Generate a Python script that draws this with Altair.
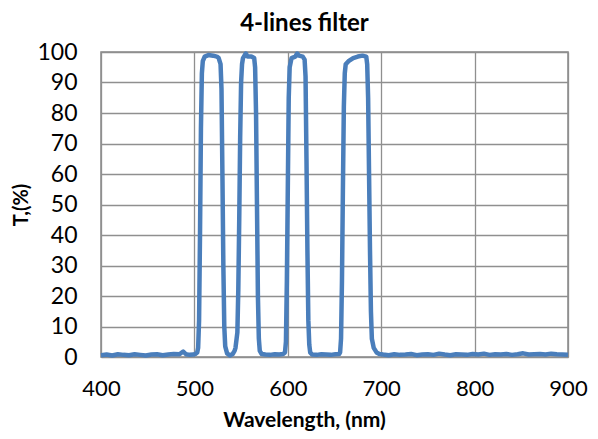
import altair as alt
import pandas as pd

wavelength = [
    400, 406, 412, 418, 424, 430, 436, 442, 448, 454, 460, 466, 472, 478, 484, 488, 491, 495, 499,
    501, 503, 504, 505, 506, 507, 508, 509, 511, 515, 520, 524, 526, 528, 529, 530, 531, 532, 533,
    535, 538, 541, 543, 544, 546, 547, 548, 549, 550, 551, 552, 553, 555, 557, 561, 564, 565, 566,
    567, 568, 569, 570, 572, 576, 581, 586, 591, 595, 597, 598, 599, 600, 601, 602, 604, 608, 610,
    612, 616, 618, 619, 620, 621, 622, 623, 624, 626, 631, 636, 641, 646, 651, 655, 656, 657, 658,
    659, 660, 661, 662, 665, 670, 675, 680, 684, 685, 686, 687, 688, 689, 690, 692, 695, 698, 702,
    708, 714, 720, 726, 732, 738, 744, 750, 756, 762, 768, 774, 780, 786, 792, 798, 804, 810, 816,
    822, 828, 834, 840, 846, 852, 858, 864, 870, 876, 882, 888, 894, 900,
]
transmission = [
    0.6, 0.8, 0.5, 0.9, 0.7, 0.6, 0.9, 0.7, 0.5, 0.8, 0.9, 0.6, 0.8, 1.0, 0.9, 1.8, 0.9, 0.7, 0.8,
    1.0, 1.5, 3.0, 12.0, 40.0, 75.0, 93.0, 97.0, 98.5, 99.0, 98.8, 98.5, 98.0, 96.0, 88.0, 60.0, 30.0, 10.0, 3.5,
    1.2, 0.5, 1.0, 2.0, 3.0, 8.0, 22.0, 45.0, 72.0, 90.0, 96.0, 98.0, 98.5, 99.5, 98.5, 98.5, 98.0, 95.0, 80.0,
    50.0, 20.0, 6.0, 2.0, 1.0, 0.8, 0.7, 0.9, 0.8, 1.0, 1.5, 5.0, 25.0, 55.0, 85.0, 95.0, 98.0, 98.5, 99.5,
    98.8, 98.5, 97.5, 92.0, 65.0, 35.0, 12.0, 4.0, 1.5, 0.8, 0.7, 0.9, 0.8, 0.7, 0.9, 1.0, 1.5, 6.0, 25.0,
    55.0, 82.0, 93.0, 96.0, 97.0, 98.0, 98.5, 98.8, 98.5, 96.0, 85.0, 60.0, 35.0, 15.0, 6.0, 3.0, 1.5, 1.0, 0.8,
    0.6, 0.9, 0.7, 0.8, 1.0, 0.6, 0.8, 0.9, 0.7, 1.1, 0.8, 0.6, 0.9, 0.8, 0.7, 1.0, 0.8, 1.1, 0.7,
    0.9, 0.8, 1.0, 0.7, 0.9, 1.2, 0.8, 0.9, 1.0, 0.8, 1.1, 0.9, 0.8, 0.7,
]

x_ticks = [400, 500, 600, 700, 800, 900]
y_ticks = [0, 10, 20, 30, 40, 50, 60, 70, 80, 90, 100]

df = pd.DataFrame({"wl": wavelength, "T": transmission})

FONT = "Lato"
GRID = "#8f8f8f"

chart = (
    alt.Chart(df)
    .mark_line(color="#4a7ebb", strokeWidth=4.5, interpolate="linear", strokeJoin="round")
    .encode(
        x=alt.X(
            "wl:Q",
            scale=alt.Scale(domain=[400, 900], nice=False),
            axis=alt.Axis(
                values=x_ticks,
                title="Wavelength, (nm)",
                labelFontSize=22,
                labelPadding=21,
                labelFlush=False,
                labelOverlap=False,
                titleFontSize=21,
                titleX=203,
                titleY=69,
                titleBaseline="alphabetic",
            ),
        ),
        y=alt.Y(
            "T:Q",
            scale=alt.Scale(domain=[0, 100], nice=False),
            axis=alt.Axis(
                values=y_ticks,
                title="T,(%)",
                labelFontSize=23,
                labelPadding=24,
                labelOverlap=False,
                titleFontSize=20,
                titlePadding=5,
            ),
        ),
    )
    .properties(
        width=467,
        height=305,
        title=alt.TitleParams("4-lines filter", fontSize=24, font=FONT, fontWeight="bold",
                              color="#000000", dx=-30, offset=5),
        padding={"left": 93, "top": 44, "right": 20, "bottom": 74},
        autosize=alt.AutoSizeParams(type="none"),
    )
    .configure_view(stroke="#868686", strokeWidth=1.5)
    .configure_axis(
        grid=True,
        gridColor=GRID,
        gridWidth=1.3,
        gridOpacity=1,
        domain=False,
        ticks=False,
        labelFont=FONT,
        labelColor="#000000",
        titleFont=FONT,
        titleFontWeight="bold",
        titleColor="#000000",
    )
)

chart.save("out.html", embed_options={"renderer": "svg", "actions": False})
